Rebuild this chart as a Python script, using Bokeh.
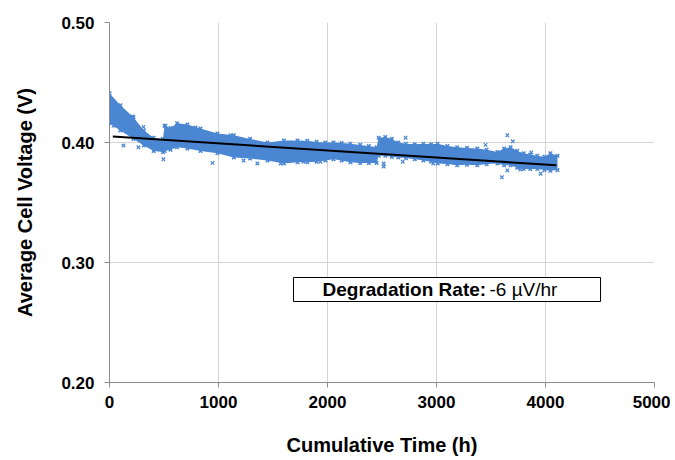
from bokeh.plotting import figure
from bokeh.models import BoxAnnotation, Label, FixedTicker, NumeralTickFormatter, Range1d
from bokeh.embed import file_html
from bokeh.resources import INLINE

band_time = [0, 100, 220, 315, 405, 490, 505, 560, 620, 715, 835, 990, 1140, 1290, 1450,
             1600, 1725, 1815, 1900, 1980, 2055, 2130, 2210, 2300, 2380, 2450, 2470, 2530,
             2590, 2650, 2720, 2800, 2880, 2950, 3010, 3100, 3190, 3280, 3375, 3460, 3560,
             3620, 3680, 3740, 3800, 3860, 3925, 3990, 4045, 4110]
band_upper = [0.441, 0.431, 0.421, 0.410, 0.404, 0.403, 0.414, 0.412, 0.416, 0.415, 0.4117,
              0.4075, 0.406, 0.403, 0.400, 0.4017, 0.4017, 0.4015, 0.4005, 0.400, 0.400,
              0.3995, 0.399, 0.398, 0.397, 0.396, 0.404, 0.4045, 0.403, 0.400, 0.399, 0.3985,
              0.399, 0.3985, 0.399, 0.397, 0.396, 0.3955, 0.395, 0.394, 0.392, 0.395, 0.396,
              0.393, 0.391, 0.390, 0.389, 0.388, 0.391, 0.389]
band_lower = [0.416, 0.410, 0.403, 0.3975, 0.393, 0.392, 0.393, 0.394, 0.396, 0.395, 0.393,
              0.391, 0.3875, 0.3867, 0.385, 0.3825, 0.3835, 0.3835, 0.384, 0.385, 0.386,
              0.385, 0.3835, 0.383, 0.383, 0.383, 0.389, 0.389, 0.388, 0.3875, 0.387, 0.386,
              0.385, 0.384, 0.3825, 0.382, 0.381, 0.3815, 0.381, 0.382, 0.3825, 0.381, 0.381,
              0.379, 0.378, 0.378, 0.378, 0.377, 0.3765, 0.377]

# Scattered individual points outside the band
outlier_time = [37, 128, 210, 266, 312, 495, 514, 790, 945, 1110, 1230, 1357, 1570, 1780,
                1935, 2515, 2515, 2690, 2716, 2970, 3450, 3600, 3650, 3650, 3700, 3770,
                3770, 3870, 3955]
outlier_voltage = [0.414, 0.3975, 0.4217, 0.396, 0.413, 0.386, 0.414, 0.4125, 0.383, 0.406,
                   0.385, 0.3825, 0.3825, 0.384, 0.384, 0.3825, 0.380, 0.384, 0.404, 0.3825,
                   0.398, 0.371, 0.406, 0.3767, 0.401, 0.3775, 0.380, 0.3917, 0.374]

# Linear trend
trend_time = [30, 4100]
trend_voltage = [0.405, 0.381]

x_ticks = [0, 1000, 2000, 3000, 4000, 5000]
y_ticks = [0.20, 0.30, 0.40, 0.50]

BLUE = "#4a86d2"
FONT = "Liberation Sans"

p = figure(width=670, height=460, output_backend="svg", toolbar_location=None,
           x_range=Range1d(0, 5000), y_range=Range1d(0.20, 0.50),
           min_border_left=109, min_border_right=16, min_border_top=22, min_border_bottom=78)
p.outline_line_color = None
p.background_fill_color = "white"

p.varea(x=band_time, y1=band_lower, y2=band_upper, fill_color=BLUE)
p.scatter(band_time, band_upper, marker="x", size=5, line_color=BLUE, line_width=1.5)
p.scatter(band_time, band_lower, marker="x", size=5, line_color=BLUE, line_width=1.5)
p.scatter(outlier_time, outlier_voltage, marker="x", size=5, line_color=BLUE, line_width=1.2)
p.line(trend_time, trend_voltage, line_color="black", line_width=2)

box = BoxAnnotation(left=1688, right=4505, bottom=0.2675, top=0.2875,
                    fill_color="white", fill_alpha=1.0, line_color="black",
                    line_alpha=1.0, line_width=1)
p.add_layout(box)
p.add_layout(Label(x=1954, y=0.2775, text="Degradation Rate:", text_font=FONT,
                   text_font_style="bold", text_font_size="19px", text_baseline="middle",
                   text_color="black"))
p.add_layout(Label(x=3486, y=0.2775, text="-6 µV/hr", text_font=FONT,
                   text_font_size="19px", text_baseline="middle", text_color="black"))

for ax in (p.xaxis[0], p.yaxis[0]):
    ax.axis_line_color = "#8c8c8c"
    ax.major_tick_line_color = "#8c8c8c"
    ax.minor_tick_line_color = None
    ax.major_tick_out = 5
    ax.major_tick_in = 0
    ax.major_label_text_font = FONT
    ax.major_label_text_font_style = "bold"
    ax.major_label_text_font_size = "17px"
    ax.major_label_text_color = "black"
    ax.axis_label_text_font = FONT
    ax.axis_label_text_font_style = "bold"
    ax.axis_label_text_font_size = "20px"
    ax.axis_label_text_color = "black"

p.xaxis.ticker = FixedTicker(ticks=x_ticks)
p.yaxis.ticker = FixedTicker(ticks=y_ticks)
p.yaxis.formatter = NumeralTickFormatter(format="0.00")
p.xaxis.axis_label = "Cumulative Time (h)"
p.yaxis.axis_label = "Average Cell Voltage (V)"
p.xaxis.major_label_standoff = 8
p.yaxis.major_label_standoff = 10
p.xaxis.axis_label_standoff = 23
p.yaxis.axis_label_standoff = 22

p.xgrid.grid_line_color = "#d4d4d4"
p.ygrid.grid_line_color = "#d4d4d4"
p.xgrid.ticker = FixedTicker(ticks=x_ticks)
p.ygrid.ticker = FixedTicker(ticks=y_ticks)

open("out.html", "w").write(file_html(p, INLINE))
